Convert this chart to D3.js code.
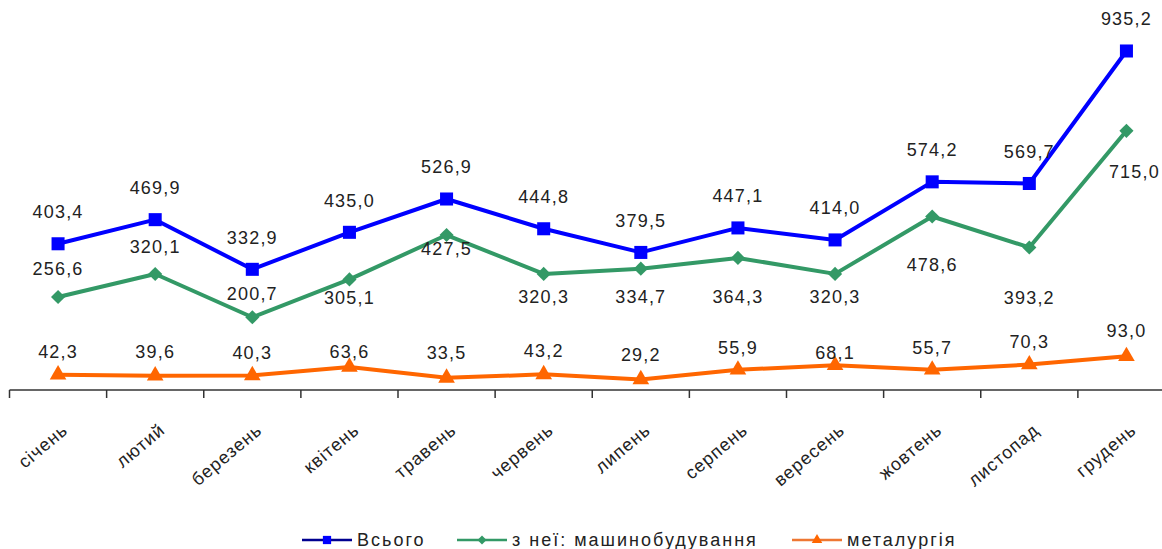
<!DOCTYPE html>
<html>
<head>
<meta charset="utf-8">
<script src="https://cdn.jsdelivr.net/npm/d3@7"></script>
<style>
  body { margin: 0; background: #fff; }
  text { font-family: "Liberation Sans", Arial, sans-serif; fill: #222; }
</style>
</head>
<body>
<svg width="1162" height="549"></svg>
<script>
const months = ["січень", "лютий", "березень", "квітень", "травень", "червень",
  "липень", "серпень", "вересень", "жовтень", "листопад", "грудень"];
const total = [403.4, 469.9, 332.9, 435.0, 526.9, 444.8, 379.5, 447.1, 414.0, 574.2, 569.7, 935.2];
const machinery = [256.6, 320.1, 200.7, 305.1, 427.5, 320.3, 334.7, 364.3, 320.3, 478.6, 393.2, 715.0];
const metallurgy = [42.3, 39.6, 40.3, 63.6, 33.5, 43.2, 29.2, 55.9, 68.1, 55.7, 70.3, 93.0];

// label nudges (px), taken from the picture's placement
const totalDy = [-32, -32, -32, -32, -32, -32, -32, -32, -32, -32, -32, -32];
const machDy = [-28, -27, -24, 18, 14, 23, 28, 39, 23, 48, 50, 41];
const machDx = [0, 0, 0, 0, 0, 0, 0, 0, 0, 0, 0, 8];
const metDy = [-23, -24, -23, -15, -25, -24, -25, -22, -13, -22, -23, -26];

const svg = d3.select("svg");

const x = d3.scaleBand().domain(months).range([9.5, 1175]);
const y = d3.scaleLinear().domain([0, 1000]).range([390, 27.5]);
const cx = m => x(m) + x.bandwidth() / 2;

// x axis
const axis = svg.append("g").attr("transform", "translate(0,390)");
axis.append("line").attr("x1", 9.5).attr("x2", 1162).attr("stroke", "#333").attr("stroke-width", 1.5);
axis.selectAll(".tick")
  .data(months)
  .enter()
  .append("line")
  .attr("x1", d => x(d)).attr("x2", d => x(d))
  .attr("y1", 0).attr("y2", 8)
  .attr("stroke", "#333").attr("stroke-width", 1.5);

axis.selectAll(".lbl")
  .data(months)
  .enter()
  .append("text")
  .attr("transform", d => "translate(" + (cx(d) + 11) + ",42) rotate(-40)")
  .attr("text-anchor", "end")
  .style("font-size", "18px")
  .style("letter-spacing", "1px")
  .text(d => d);

const series = [
  { name: "Всього", values: total, color: "#0000ff", legendLine: "#000090", symbol: d3.symbolSquare, size: 170, rot: 0, dy: totalDy, dx: null },
  { name: "з неї: машинобудування", values: machinery, color: "#339966", legendLine: "#339966", symbol: d3.symbolSquare, size: 100, rot: 45, dy: machDy, dx: machDx },
  { name: "металургія", values: metallurgy, color: "#ff6600", legendLine: "#ee7733", symbol: d3.symbolTriangle, size: 120, rot: 0, dy: metDy, dx: null }
];

const line = d3.line()
  .x((d, i) => cx(months[i]))
  .y(d => y(d));

series.forEach(s => {
  svg.append("path")
    .datum(s.values)
    .attr("fill", "none")
    .attr("stroke", s.color)
    .attr("stroke-width", 4)
    .attr("stroke-linejoin", "round")
    .attr("d", line);

  svg.append("g").selectAll("path")
    .data(s.values)
    .enter()
    .append("path")
    .attr("transform", (d, i) => "translate(" + cx(months[i]) + "," + y(d) + ") rotate(" + s.rot + ")")
    .attr("d", d3.symbol().type(s.symbol).size(s.size))
    .attr("fill", s.color);

  svg.append("g").selectAll("text")
    .data(s.values)
    .enter()
    .append("text")
    .attr("x", (d, i) => cx(months[i]) + (s.dx ? s.dx[i] : 0))
    .attr("y", (d, i) => y(d) + s.dy[i])
    .attr("dy", "0.35em")
    .attr("text-anchor", "middle")
    .style("font-size", "18px")
    .style("letter-spacing", "1.2px")
    .text(d => d.toFixed(1).replace(".", ","));
});

// legend
const legendX = [302, 457, 792];
const legend = svg.append("g").attr("transform", "translate(0,540)");
series.forEach((s, i) => {
  const g = legend.append("g").attr("transform", "translate(" + legendX[i] + ",0)");
  g.append("line").attr("x1", 0).attr("x2", 50).attr("stroke", s.legendLine).attr("stroke-width", 2.5);
  g.append("path")
    .attr("transform", "translate(25,0) rotate(" + s.rot + ")")
    .attr("d", d3.symbol().type(s.symbol).size(s.size * 0.4))
    .attr("fill", s.color);
  g.append("text")
    .attr("x", 55)
    .attr("dy", "0.35em")
    .style("font-size", "18px")
    .style("letter-spacing", "2px")
    .text(s.name);
});
</script>
</body>
</html>
